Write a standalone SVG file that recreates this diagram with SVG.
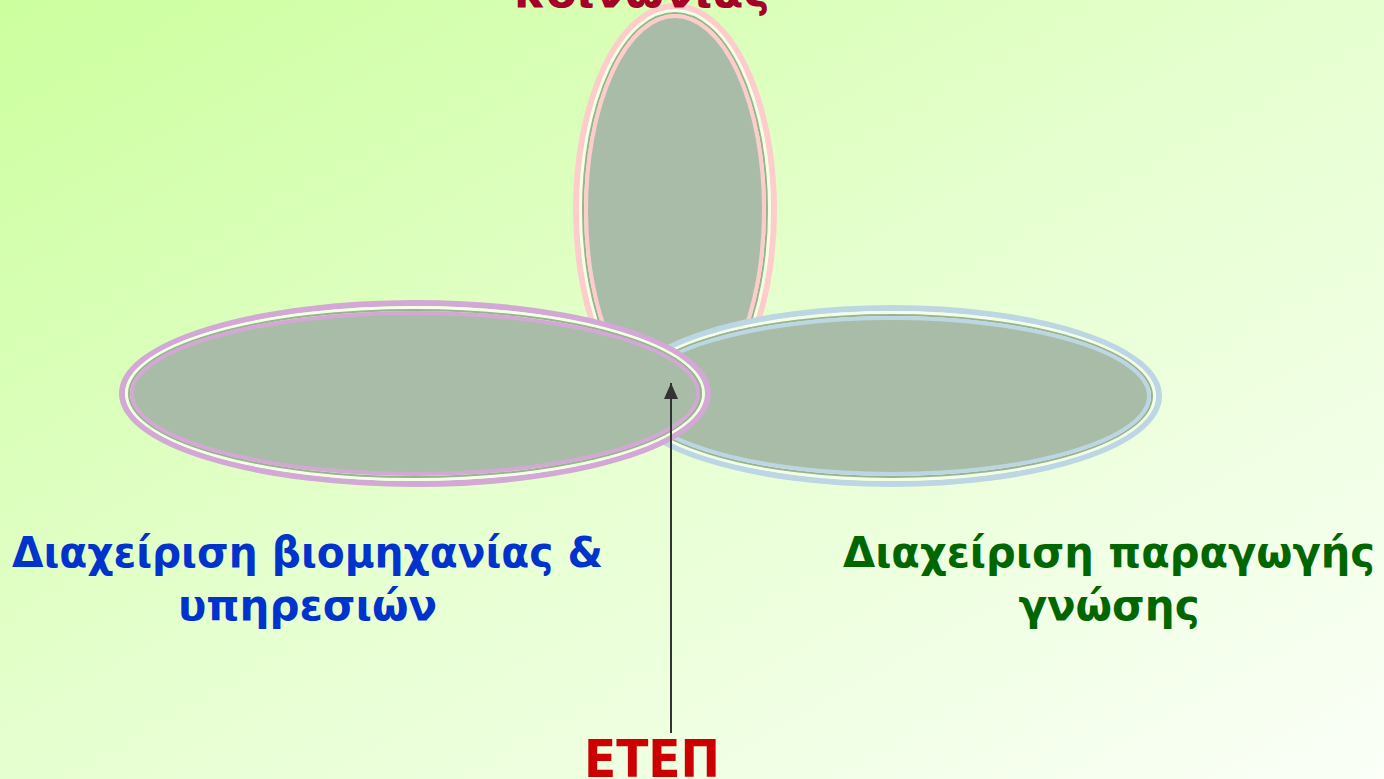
<svg xmlns="http://www.w3.org/2000/svg" width="1384" height="779" viewBox="0 0 1384 779">
<defs>
<linearGradient id="bg" x1="0" y1="0" x2="1" y2="1">
<stop offset="0" stop-color="#ccff9e"/>
<stop offset="0.5" stop-color="#e6ffd0"/>
<stop offset="1" stop-color="#fbfff8"/>
</linearGradient>
<marker id="ah" markerWidth="16" markerHeight="14" refX="16" refY="7" orient="auto" markerUnits="userSpaceOnUse" viewBox="0 0 16 14">
<path d="M16,7 L0,0 L0,14 Z" fill="#333333"/>
</marker>
<style>
.fill{fill:#a9bca7}
.gap{fill:none;stroke:#f4ffe8;stroke-width:3}
.gl{fill:none;stroke:#98b48e;stroke-width:2}
.t{font-family:"DejaVu Sans","Liberation Sans",sans-serif;font-weight:bold;text-anchor:middle}
</style>
</defs>
<rect width="1384" height="779" fill="url(#bg)"/>

<g id="top-ellipse">
<ellipse cx="675" cy="210" rx="99" ry="204" fill="none" stroke="#ffcccc" stroke-width="6"/>
<ellipse cx="675" cy="210" rx="94.5" ry="199.5" class="gap"/>
<ellipse cx="675" cy="210" rx="92" ry="197" class="gl"/>
<ellipse cx="675" cy="210" rx="89" ry="194" class="fill" stroke="#ffcccc" stroke-width="4"/>
</g>

<g id="right-ellipse">
<ellipse cx="892" cy="396" rx="267" ry="88" fill="none" stroke="#bcd6e4" stroke-width="6"/>
<ellipse cx="892" cy="396" rx="262.5" ry="83.5" class="gap"/>
<ellipse cx="892" cy="396" rx="260" ry="81" class="gl"/>
<ellipse cx="892" cy="396" rx="257" ry="78" class="fill" stroke="#bcd6e4" stroke-width="4"/>
</g>

<g id="left-ellipse">
<ellipse cx="415" cy="393.5" rx="293" ry="90.5" fill="none" stroke="#d2a8d4" stroke-width="6"/>
<ellipse cx="415" cy="393.5" rx="288.5" ry="86" class="gap"/>
<ellipse cx="415" cy="393.5" rx="286" ry="83.5" class="gl"/>
<ellipse cx="415" cy="393.5" rx="283" ry="80.5" class="fill" stroke="#d2a8d4" stroke-width="4"/>
</g>

<g id="connectors">
<line x1="671" y1="733" x2="671" y2="383" stroke="#333333" stroke-width="2" marker-end="url(#ah)"/>
</g>

<g id="label-top">
<text class="t" x="642" y="7" font-size="44" fill="#a50026" textLength="256" lengthAdjust="spacingAndGlyphs">κοινωνίας</text>
</g>
<g id="label-left">
<text class="t" x="307.5" y="567" font-size="42" fill="#0033cc" textLength="591" lengthAdjust="spacingAndGlyphs">Διαχείριση βιομηχανίας &amp;</text>
<text class="t" x="307.5" y="620" font-size="42" fill="#0033cc">υπηρεσιών</text>
</g>
<g id="label-right">
<text class="t" x="1109" y="567" font-size="42" fill="#006600" textLength="532" lengthAdjust="spacingAndGlyphs">Διαχείριση παραγωγής</text>
<text class="t" x="1109" y="620" font-size="42" fill="#006600">γνώσης</text>
</g>
<g id="label-etep">
<text class="t" x="652" y="777" font-size="52" fill="#cc0000" textLength="136" lengthAdjust="spacingAndGlyphs">ΕΤΕΠ</text>
</g>
</svg>
